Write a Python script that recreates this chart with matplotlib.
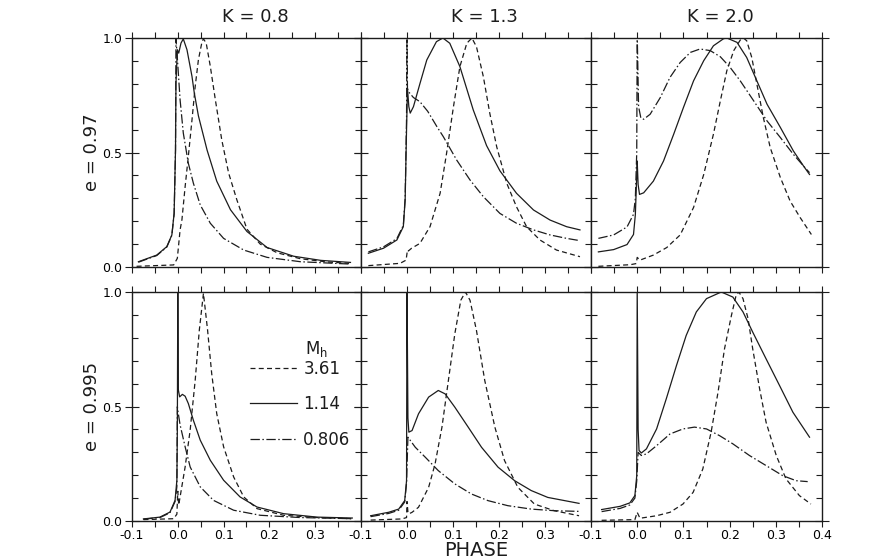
import matplotlib
matplotlib.use("Agg")
import matplotlib.pyplot as plt
from matplotlib.lines import Line2D

# ── chart text ──
k_titles = ["K = 0.8", "K = 1.3", "K = 2.0"]
e_labels = ["e = 0.97", "e = 0.995"]
mass_labels = ["3.61", "1.14", "0.806"]
x_ticks = [-0.1, 0.0, 0.1, 0.2, 0.3, 0.4]
x_tick_labels = ["-0.1", "0.0", "0.1", "0.2", "0.3", "0.4"]
y_ticks = [0.0, 0.5, 1.0]
y_tick_labels = ["0.0", "0.5", "1.0"]

# ── K = 0.8, e = 0.97 ──
k08_e97_m361_x = [-0.090, -0.009, -0.001, 0.005, 0.009, 0.016, 0.023, 0.031, 0.038, 0.045, 0.053, 0.056,
                  0.062, 0.071, 0.082, 0.096, 0.111, 0.129, 0.151, 0.180, 0.217, 0.268, 0.326, 0.374]
k08_e97_m361_y = [0.003, 0.009, 0.038, 0.162, 0.206, 0.351, 0.483, 0.643, 0.789, 0.905, 0.985, 0.996,
                  0.978, 0.876, 0.730, 0.555, 0.410, 0.293, 0.165, 0.100, 0.062, 0.036, 0.022, 0.016]
k08_e97_m114_x = [-0.086, -0.046, -0.024, -0.013, -0.008, -0.005, -0.004, -0.001, 0.002, 0.007, 0.012, 0.020,
                  0.031, 0.036, 0.045, 0.064, 0.085, 0.115, 0.151, 0.195, 0.253, 0.312, 0.377]
k08_e97_m114_y = [0.023, 0.052, 0.089, 0.140, 0.235, 0.512, 0.803, 0.949, 0.934, 0.978, 0.996, 0.949,
                  0.832, 0.760, 0.660, 0.510, 0.375, 0.250, 0.155, 0.085, 0.047, 0.029, 0.020]
k08_e97_m081_x = [-0.086, -0.046, -0.024, -0.013, -0.008, -0.005, -0.004, -0.001, 0.005, 0.012, 0.023, 0.034,
                  0.049, 0.071, 0.100, 0.144, 0.195, 0.268, 0.374]
k08_e97_m081_y = [0.021, 0.050, 0.087, 0.138, 0.232, 0.510, 0.996, 0.913, 0.730, 0.585, 0.453, 0.366,
                  0.271, 0.191, 0.125, 0.074, 0.042, 0.023, 0.013]

# ── K = 1.3, e = 0.97 ──
k13_e97_m361_x = [-0.084, -0.015, -0.002, 0.001, 0.003, 0.010, 0.028, 0.050, 0.072, 0.086, 0.101, 0.115,
                  0.130, 0.141, 0.151, 0.166, 0.180, 0.195, 0.217, 0.238, 0.260, 0.289, 0.325, 0.376]
k13_e97_m361_y = [0.006, 0.016, 0.030, 0.074, 0.070, 0.082, 0.103, 0.176, 0.322, 0.496, 0.700, 0.875,
                  0.977, 1.000, 0.962, 0.831, 0.671, 0.525, 0.365, 0.263, 0.176, 0.118, 0.074, 0.045]
k13_e97_m114_x = [-0.084, -0.051, -0.022, -0.008, -0.004, -0.001, 0.001, 0.004, 0.007, 0.014, 0.028, 0.043,
                  0.064, 0.078, 0.093, 0.115, 0.144, 0.173, 0.202, 0.238, 0.275, 0.311, 0.347, 0.376]
k13_e97_m114_y = [0.060, 0.082, 0.118, 0.176, 0.293, 0.600, 0.780, 0.700, 0.672, 0.700, 0.800, 0.904,
                  0.984, 1.000, 0.977, 0.875, 0.686, 0.530, 0.420, 0.322, 0.249, 0.205, 0.176, 0.162]
k13_e97_m081_x = [-0.084, -0.051, -0.022, -0.008, -0.004, -0.001, 0.000, 0.001, 0.003, 0.014, 0.028, 0.045,
                  0.065, 0.079, 0.108, 0.137, 0.166, 0.202, 0.238, 0.275, 0.311, 0.347, 0.376]
k13_e97_m081_y = [0.066, 0.088, 0.124, 0.182, 0.300, 0.650, 1.020, 0.780, 0.766, 0.740, 0.722, 0.680,
                  0.613, 0.569, 0.467, 0.380, 0.307, 0.234, 0.191, 0.162, 0.140, 0.125, 0.115]

# ── K = 2.0, e = 0.97 ──
k20_e97_m361_x = [-0.084, -0.015, -0.002, 0.000, 0.006, 0.035, 0.064, 0.093, 0.122, 0.144, 0.165, 0.180,
                  0.194, 0.209, 0.223, 0.230, 0.237, 0.248, 0.259, 0.273, 0.288, 0.310, 0.331, 0.353, 0.377]
k20_e97_m361_y = [0.003, 0.010, 0.015, 0.042, 0.030, 0.052, 0.085, 0.140, 0.260, 0.404, 0.580, 0.726,
                  0.857, 0.945, 0.991, 1.000, 0.988, 0.915, 0.799, 0.653, 0.521, 0.390, 0.288, 0.215, 0.142]
k20_e97_m114_x = [-0.084, -0.051, -0.022, -0.008, -0.004, -0.001, 0.000, 0.002, 0.005, 0.014, 0.035, 0.057,
                  0.079, 0.100, 0.122, 0.144, 0.165, 0.187, 0.194, 0.216, 0.237, 0.259, 0.281, 0.310, 0.338,
                  0.360, 0.373]
k20_e97_m114_y = [0.066, 0.076, 0.098, 0.142, 0.229, 0.400, 0.463, 0.360, 0.317, 0.324, 0.375, 0.463,
                  0.580, 0.696, 0.813, 0.901, 0.966, 0.997, 1.000, 0.981, 0.915, 0.813, 0.711, 0.609, 0.507,
                  0.441, 0.404]
k20_e97_m081_x = [-0.084, -0.051, -0.022, -0.008, -0.004, -0.001, 0.000, 0.003, 0.008, 0.014, 0.028, 0.050,
                  0.071, 0.093, 0.115, 0.136, 0.158, 0.180, 0.201, 0.223, 0.252, 0.281, 0.310, 0.338, 0.360,
                  0.373]
k20_e97_m081_y = [0.125, 0.140, 0.175, 0.230, 0.300, 0.500, 1.020, 0.700, 0.650, 0.645, 0.667, 0.740,
                  0.828, 0.893, 0.937, 0.952, 0.945, 0.918, 0.872, 0.813, 0.726, 0.638, 0.565, 0.492, 0.441,
                  0.412]

# ── K = 0.8, e = 0.995 ──
k08_e995_m361_x = [-0.075, -0.009, -0.002, 0.000, 0.002, 0.005, 0.016, 0.027, 0.038, 0.047, 0.056, 0.065,
                   0.074, 0.085, 0.100, 0.122, 0.144, 0.173, 0.231, 0.304, 0.381]
k08_e995_m361_y = [0.006, 0.010, 0.030, 0.130, 0.070, 0.105, 0.236, 0.397, 0.615, 0.834, 0.994, 0.834,
                   0.644, 0.469, 0.324, 0.192, 0.105, 0.054, 0.025, 0.015, 0.010]
k08_e995_m114_x = [-0.075, -0.039, -0.017, -0.006, -0.002, -0.001, 0.000, 0.001, 0.004, 0.010, 0.016, 0.023,
                   0.034, 0.049, 0.071, 0.100, 0.136, 0.173, 0.231, 0.304, 0.381]
k08_e995_m114_y = [0.009, 0.017, 0.039, 0.090, 0.178, 0.400, 1.020, 0.575, 0.542, 0.553, 0.545, 0.513,
                   0.440, 0.353, 0.265, 0.178, 0.105, 0.061, 0.032, 0.017, 0.013]
k08_e995_m081_x = [-0.075, -0.039, -0.017, -0.006, -0.002, -0.001, 0.001, 0.005, 0.016, 0.027, 0.049, 0.078,
                   0.122, 0.180, 0.268, 0.381]
k08_e995_m081_y = [0.008, 0.015, 0.036, 0.085, 0.150, 0.499, 0.470, 0.420, 0.324, 0.236, 0.149, 0.090,
                   0.047, 0.025, 0.015, 0.010]

# ── K = 1.3, e = 0.995 ──
k13_e995_m361_x = [-0.079, -0.011, -0.001, 0.000, 0.002, 0.004, 0.011, 0.025, 0.047, 0.061, 0.076, 0.090,
                   0.104, 0.117, 0.127, 0.137, 0.151, 0.169, 0.191, 0.212, 0.241, 0.277, 0.320, 0.374]
k13_e995_m361_y = [0.004, 0.009, 0.015, 0.085, 0.040, 0.031, 0.038, 0.060, 0.147, 0.249, 0.410, 0.614,
                   0.818, 0.964, 1.000, 0.964, 0.832, 0.614, 0.410, 0.264, 0.147, 0.074, 0.045, 0.023]
k13_e995_m114_x = [-0.079, -0.040, -0.018, -0.005, -0.001, 0.000, 0.002, 0.004, 0.011, 0.025, 0.047, 0.068,
                   0.083, 0.104, 0.133, 0.162, 0.198, 0.234, 0.270, 0.306, 0.374]
k13_e995_m114_y = [0.023, 0.038, 0.052, 0.089, 0.176, 1.020, 0.450, 0.388, 0.395, 0.468, 0.541, 0.570,
                   0.555, 0.497, 0.410, 0.322, 0.235, 0.176, 0.133, 0.103, 0.077]
k13_e995_m081_x = [-0.079, -0.040, -0.018, -0.005, -0.001, 0.002, 0.018, 0.040, 0.068, 0.104, 0.140, 0.176,
                   0.219, 0.270, 0.320, 0.374]
k13_e995_m081_y = [0.019, 0.033, 0.047, 0.083, 0.165, 0.366, 0.322, 0.278, 0.220, 0.162, 0.118, 0.089,
                   0.067, 0.052, 0.045, 0.042]

# ── K = 2.0, e = 0.995 ──
k20_e995_m361_x = [-0.077, -0.005, 0.000, 0.006, 0.042, 0.071, 0.099, 0.121, 0.142, 0.160, 0.175, 0.189,
                   0.204, 0.214, 0.220, 0.229, 0.240, 0.250, 0.265, 0.279, 0.301, 0.322, 0.351, 0.376]
k20_e995_m361_y = [0.003, 0.006, 0.038, 0.012, 0.023, 0.038, 0.074, 0.125, 0.227, 0.388, 0.563, 0.752,
                   0.898, 0.985, 1.000, 0.971, 0.883, 0.752, 0.577, 0.431, 0.286, 0.184, 0.111, 0.074]
k20_e995_m114_x = [-0.077, -0.037, -0.016, -0.005, -0.001, 0.000, 0.002, 0.004, 0.009, 0.020, 0.042, 0.063,
                   0.085, 0.106, 0.128, 0.150, 0.182, 0.207, 0.229, 0.250, 0.279, 0.308, 0.337, 0.373]
k20_e995_m114_y = [0.050, 0.064, 0.079, 0.111, 0.198, 1.020, 0.400, 0.308, 0.297, 0.315, 0.402, 0.534,
                   0.679, 0.810, 0.913, 0.971, 1.000, 0.978, 0.913, 0.825, 0.708, 0.592, 0.475, 0.366]
k20_e995_m081_x = [-0.077, -0.037, -0.016, -0.005, -0.001, 0.002, 0.009, 0.020, 0.042, 0.071, 0.099, 0.124,
                   0.150, 0.178, 0.207, 0.243, 0.279, 0.315, 0.344, 0.369]
k20_e995_m081_y = [0.041, 0.055, 0.070, 0.100, 0.175, 0.300, 0.286, 0.293, 0.329, 0.380, 0.402, 0.410,
                   0.402, 0.373, 0.337, 0.286, 0.242, 0.198, 0.176, 0.172]

INK = "#1c1c1c"
STYLES = [
    dict(linestyle=(0, (4.0, 2.6))),            # M_h = 3.61
    dict(linestyle="-"),                        # M_h = 1.14
    dict(linestyle=(0, (7.5, 2.0, 1.2, 2.0))),  # M_h = 0.806
]

panels = {
    (0, 0): [(k08_e97_m361_x, k08_e97_m361_y), (k08_e97_m114_x, k08_e97_m114_y), (k08_e97_m081_x, k08_e97_m081_y)],
    (0, 1): [(k13_e97_m361_x, k13_e97_m361_y), (k13_e97_m114_x, k13_e97_m114_y), (k13_e97_m081_x, k13_e97_m081_y)],
    (0, 2): [(k20_e97_m361_x, k20_e97_m361_y), (k20_e97_m114_x, k20_e97_m114_y), (k20_e97_m081_x, k20_e97_m081_y)],
    (1, 0): [(k08_e995_m361_x, k08_e995_m361_y), (k08_e995_m114_x, k08_e995_m114_y), (k08_e995_m081_x, k08_e995_m081_y)],
    (1, 1): [(k13_e995_m361_x, k13_e995_m361_y), (k13_e995_m114_x, k13_e995_m114_y), (k13_e995_m081_x, k13_e995_m081_y)],
    (1, 2): [(k20_e995_m361_x, k20_e995_m361_y), (k20_e995_m114_x, k20_e995_m114_y), (k20_e995_m081_x, k20_e995_m081_y)],
}

W, H = 878, 559
plt.rcParams["font.family"] = ["DejaVu Sans"]
fig = plt.figure(figsize=(W / 100, H / 100), dpi=100)

# panel edges in pixels
col_px = [(132, 361), (361, 591), (591, 822)]
row_px = [(38, 267), (292, 521)]

axes = {}
for (r, c), curves in panels.items():
    x0, x1 = col_px[c]
    y0, y1 = row_px[r]
    ax = fig.add_axes([x0 / W, 1 - y1 / H, (x1 - x0) / W, (y1 - y0) / H])
    axes[(r, c)] = ax
    for (xs, ys), st in zip(curves, STYLES):
        ax.plot(xs, ys, color=INK, lw=0.9, **st)

    ax.set_xlim(-0.1, 0.4)
    ax.set_ylim(0.0, 1.0)
    for sp in ax.spines.values():
        sp.set_linewidth(1.0)
        sp.set_color(INK)

    # x ticks every 0.05, outward on top and bottom
    ax.set_xticks(x_ticks)
    ax.set_xticks([v + 0.05 for v in x_ticks[:-1]], minor=True)
    ax.tick_params(axis="x", which="both", direction="out", top=True, bottom=True,
                   length=4, width=0.8, color=INK, labelsize=9, pad=2)
    if r == 1:
        labels = list(x_tick_labels)
        if c < 2:
            labels[-1] = ""
        ax.set_xticklabels(labels)
    else:
        ax.set_xticklabels([])

    # y ticks every 0.1, long one at 0.5
    ax.set_yticks(y_ticks)
    ax.set_yticks([0.1, 0.2, 0.3, 0.4, 0.6, 0.7, 0.8, 0.9], minor=True)
    ax.tick_params(axis="y", which="minor", direction="in", left=True, right=True, length=4, width=0.8, color=INK)
    ax.tick_params(axis="y", which="major", direction="inout", left=True, right=True, length=10, width=0.8,
                   color=INK, labelsize=9, pad=2)
    if c == 0:
        ax.set_yticklabels(y_tick_labels)
    else:
        ax.set_yticklabels([])

for c, title in enumerate(k_titles):
    fig.text([255, 484, 720][c] / W, 1 - 17 / H, title, ha="center", va="center", fontsize=13, color=INK)

for r, lab in enumerate(e_labels):
    fig.text(92 / W, 1 - [152, 406][r] / H, lab, ha="center", va="center", rotation=90, fontsize=13, color=INK)

fig.text(476 / W, 1 - 551 / H, "PHASE", ha="center", va="center", fontsize=14, color=INK)

# legend in the lower-left panel
leg_ax = axes[(1, 0)]
handles = [Line2D([], [], color=INK, lw=0.9, **st) for st in STYLES]
leg = leg_ax.legend(handles, mass_labels, loc="upper left", bbox_to_anchor=(0.515, 0.705), frameon=False,
                    fontsize=12, handlelength=2.8, handletextpad=0.4, labelspacing=1.05, borderpad=0,
                    borderaxespad=0)
for t in leg.get_texts():
    t.set_color(INK)
leg_ax.text(0.805, 0.75, r"M$_\mathrm{h}$", transform=leg_ax.transAxes, ha="center", va="center",
            fontsize=12, color=INK)

fig.savefig("out.png", dpi=100)
